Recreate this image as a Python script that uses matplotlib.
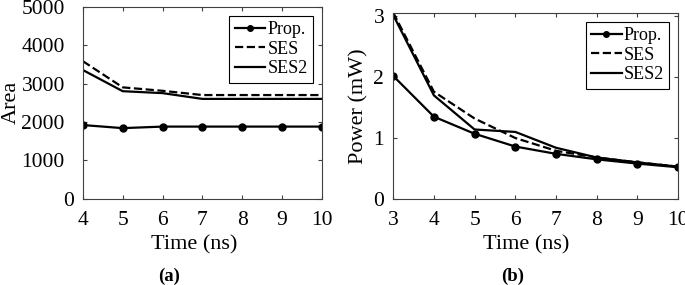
import matplotlib
matplotlib.use("Agg")
import matplotlib.pyplot as plt
from matplotlib.transforms import ScaledTranslation

plt.rcParams['font.family'] = ['Liberation Serif', 'DejaVu Serif']

# panel (a): area
t_a = [4, 5, 6, 7, 8, 9, 10]
area_prop = [1920, 1840, 1880, 1880, 1880, 1880, 1880]
area_ses = [3580, 2900, 2810, 2700, 2700, 2700, 2700]
area_ses2 = [3350, 2800, 2750, 2600, 2600, 2600, 2600]

# panel (b): power
t_b = [3, 4, 5, 6, 7, 8, 9, 10]
pow_prop = [2.02, 1.35, 1.07, 0.86, 0.74, 0.65, 0.58, 0.52]
pow_ses = [3.06, 1.76, 1.32, 1.00, 0.79, 0.68, 0.60, 0.53]
pow_ses2 = [3.02, 1.70, 1.14, 1.10, 0.84, 0.68, 0.60, 0.53]

fig = plt.figure(figsize=(6.85, 2.85), dpi=100)
ax1 = fig.add_axes([0.121, 0.302, 0.349, 0.675])
ax2 = fig.add_axes([0.574, 0.302, 0.416, 0.654])

def style(ax):
    ax.tick_params(direction='in', top=True, right=True, labelsize=15.5,
                   length=3, color='#404040')
    ax.tick_params(axis='y', pad=6.5)
    ax.tick_params(axis='x', pad=9)
    for s in ax.spines.values():
        s.set_color('#404040')
        s.set_linewidth(0.8)
    ax.set_xlabel("Time (ns)", fontsize=16)

ax1.plot(t_a, area_prop, 'k-', marker='o', ms=5, lw=1.6, label='Prop.')
ax1.plot(t_a, area_ses, 'k--', lw=1.6, label='SES')
ax1.plot(t_a, area_ses2, 'k-', lw=1.6, label='SES2')
ax1.set_xlim(4, 10)
ax1.set_ylim(0, 5000)
ax1.set_xticks(t_a)
ax1.set_yticks([0, 1000, 2000, 3000, 4000, 5000])
ax1.set_ylabel("Area", fontsize=16)
style(ax1)
ax1.xaxis.set_label_coords(0.464, -0.187)
ax1.yaxis.set_label_coords(-0.26, 0.5)

ax2.plot(t_b, pow_prop, 'k-', marker='o', ms=5, lw=1.6, label='Prop.')
ax2.plot(t_b, pow_ses, 'k--', lw=1.6, label='SES')
ax2.plot(t_b, pow_ses2, 'k-', lw=1.6, label='SES2')
ax2.set_xlim(3, 10)
ax2.set_ylim(0, 3.06)
ax2.set_xticks(t_b)
ax2.set_yticks([0, 1, 2, 3])
ax2.set_ylabel("Power (mW)", fontsize=16)
style(ax2)
ax2.xaxis.set_label_coords(0.467, -0.193)
ax2.yaxis.set_label_coords(-0.088, 0.5)

# the four-digit area labels sit further from the axis in the original
shift = ScaledTranslation(-9 / 100, 0, fig.dpi_scale_trans)
for lab in ax1.get_yticklabels()[1:]:
    lab.set_transform(lab.get_transform() + shift)

for ax in (ax1, ax2):
    leg = ax.legend(loc='upper right', fontsize=13, handlelength=1.7,
                    handletextpad=0.1, borderpad=0.3, labelspacing=0.15,
                    fancybox=False, framealpha=1, borderaxespad=0.5,
                    markerscale=0.8)
    leg.get_frame().set_edgecolor('black')
    leg.get_frame().set_linewidth(0.8)

fig.text(0.247, 0.015, "(a)", fontsize=13.5, fontweight='bold', ha='center')
fig.text(0.749, 0.015, "(b)", fontsize=13.5, fontweight='bold', ha='center')

fig.savefig("out.png", dpi=100)
